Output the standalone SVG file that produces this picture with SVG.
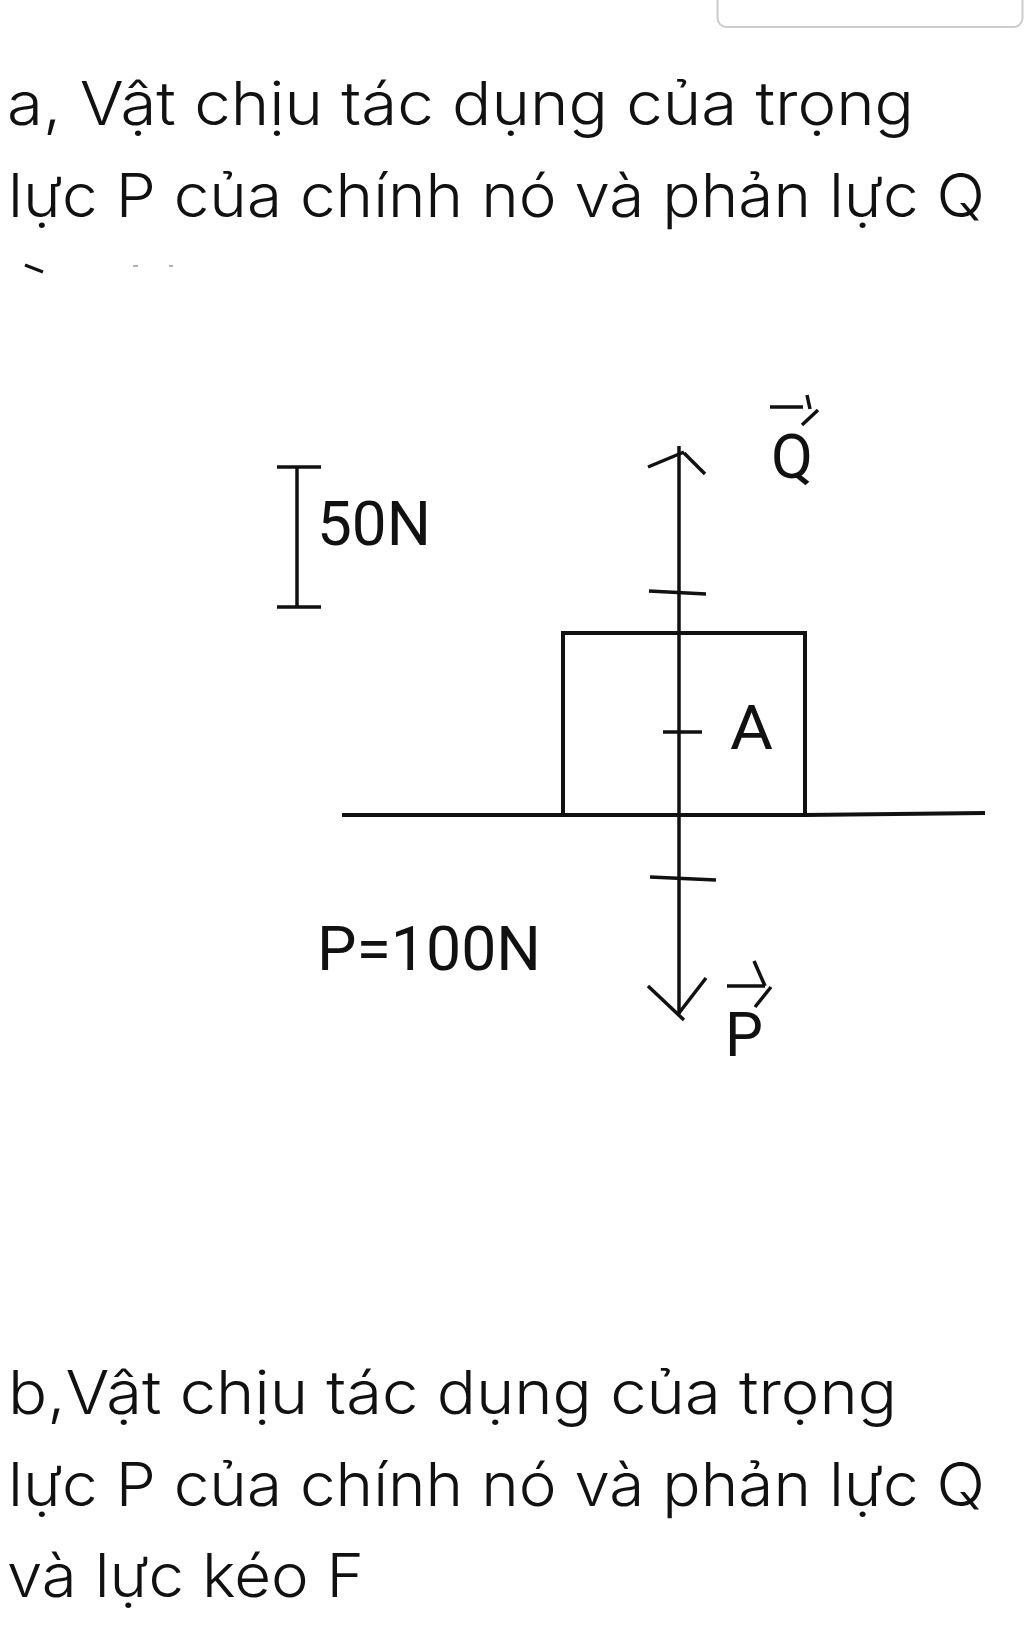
<svg xmlns="http://www.w3.org/2000/svg" width="1024" height="1643" viewBox="0 0 1024 1643">
<style>
.t{font-family:"Inter","Noto Sans",sans-serif;font-weight:300;font-size:60px;fill:#111}
.l{font-family:"Roboto","Liberation Sans",sans-serif;font-size:61px;fill:#111}
.s{stroke:#111;stroke-width:4;fill:none}
.m{stroke:#111;stroke-width:3.5;fill:none}
</style>
<rect width="1024" height="1643" fill="#fff"/>
<rect id="corner-box" x="717.500" y="-20" width="305" height="47" rx="9" fill="#fff" stroke="#ccc" stroke-width="2"/>
<g id="text-a">
<text class="t" x="7" y="125" textLength="907" lengthAdjust="spacingAndGlyphs">a, Vật chịu tác dụng của trọng</text>
<text class="t" x="8" y="217" textLength="977" lengthAdjust="spacingAndGlyphs">lực P của chính nó và phản lực Q</text>
</g>
<g id="specks"><path d="M25 265L43 272" stroke="#111" stroke-width="3" fill="none"/><path d="M133 266h5M169 266h4" stroke="#999" stroke-width="1.500" fill="none"/></g>
<g id="scale">
<path class="m" d="M297 467V607M277 467H321M277 607H321"/>
<text class="l" x="317" y="545" textLength="114" lengthAdjust="spacingAndGlyphs">50N</text>
</g>
<g id="block-A">
<rect class="s" x="563" y="633" width="242" height="182"/>
<text class="l" x="730" y="749" textLength="43" lengthAdjust="spacingAndGlyphs">A</text>
</g>
<g id="ground"><path class="s" d="M342 815H805L985 813"/></g>
<g id="label-P-value"><text class="l" x="317" y="970" textLength="224" lengthAdjust="spacingAndGlyphs">P=100N</text></g>
<g id="label-Q">
<text class="l" x="771" y="478" textLength="42" lengthAdjust="spacingAndGlyphs">Q</text>
<path class="m" d="M770 407H803M807 395L810 409M818 410L802 425"/>
</g>
<g id="label-P">
<text class="l" x="725" y="1056" textLength="38" lengthAdjust="spacingAndGlyphs">P</text>
<path class="m" d="M727 986H765M754 961L765 986M771 987L755 1007"/>
</g>
<g id="connectors">
<path class="m" d="M679 446V1014"/>
<path class="m" d="M648 467L684 452M684 453L705 474"/>
<path class="m" d="M649 591L706 594"/>
<path class="m" d="M663 732H702"/>
<path class="m" d="M650 877L716 880"/>
<path class="m" d="M648 986L684 1020M706 978L679 1013"/>
</g>
<g id="text-b">
<text class="t" x="8" y="1414" textLength="889" lengthAdjust="spacingAndGlyphs">b,Vật chịu tác dụng của trọng</text>
<text class="t" x="8" y="1506" textLength="977" lengthAdjust="spacingAndGlyphs">lực P của chính nó và phản lực Q</text>
<text class="t" x="7" y="1597" textLength="357" lengthAdjust="spacingAndGlyphs">và lực kéo F</text>
</g>
</svg>
